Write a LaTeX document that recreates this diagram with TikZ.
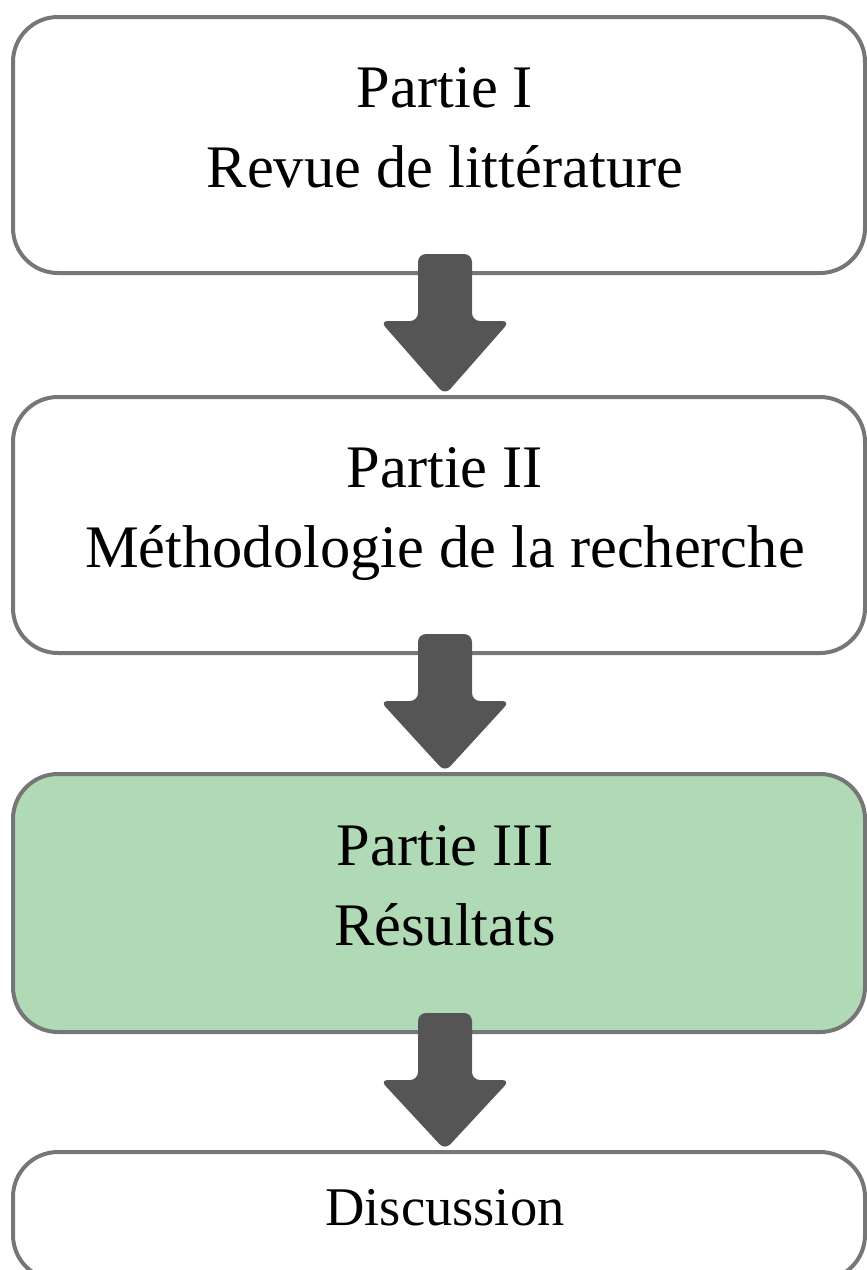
\documentclass[tikz,border=0pt]{standalone}
\usepackage{fontspec}
\setmainfont{Liberation Serif}
\usepackage{xcolor}
\usetikzlibrary{calc,positioning}
\definecolor{boxgray}{RGB}{118,118,118}
\definecolor{arrowgray}{RGB}{85,85,85}
\definecolor{partgreen}{RGB}{176,217,182}
\tikzset{%
	partbox/.style  = {draw=boxgray, line width=2pt, rectangle, rounded corners=22.5pt, minimum width=426pt, minimum height=128pt, inner sep=0pt},
	parttext/.style = {align=center, inner sep=0pt, font=\fontsize{30.2pt}{40pt}\selectfont},
	flowarrow/.style= {fill=arrowgray, rounded corners=4pt},
}
\begin{document}
\begin{tikzpicture}[x=0.5pt,y=-0.5pt]
	\useasboundingbox (0,0) rectangle (867,1270);
	\node[partbox] (p1) at (439,145) {};
	\node[partbox] (p2) at (439,525) {};
	\node[partbox, fill=partgreen, minimum height=129pt] (p3) at (439,903) {};
	\node[partbox, minimum height=64pt] (p4) at (439,1216) {};
	\node[parttext] (t1) at ($(p1.center)+(6,-17)$) {Partie I\\Revue de littérature};
	\node[parttext] (t2) at ($(p2.center)+(6,-11)$) {Partie II\\Méthodologie de la recherche};
	\node[parttext] (t3) at ($(p3.center)+(6,-17)$) {Partie III\\Résultats};
	\node[parttext, font=\fontsize{27.25pt}{33pt}\selectfont] (t4) at ($(p4.center)+(6,-8)$) {Discussion};
	\foreach \a/\b in {p1/p2,p2/p3,p3/p4}
		\fill[flowarrow] ($(\a.south)+(-21,-21)$) -- ($(\a.south)+(33,-21)$) -- ($(\a.south)+(33,46)$)
			-- ($(\a.south)+(71,46)$) -- ($(\b.north)+(6,0)$) -- ($(\a.south)+(-59,46)$)
			-- ($(\a.south)+(-21,46)$) -- cycle;
\end{tikzpicture}
\end{document}
